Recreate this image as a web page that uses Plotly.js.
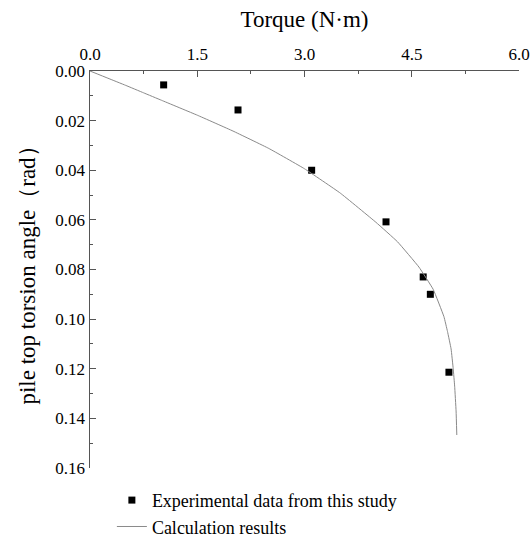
<!DOCTYPE html>
<html>
<head>
<meta charset="utf-8">
<script src="https://cdn.plot.ly/plotly-3.0.1.min.js"></script>
<style>html,body{margin:0;padding:0;background:#fff;}#chart{width:532px;height:538px;}</style>
</head>
<body>
<div id="chart"></div>
<script>
// Experimental data
const expTorque = [1.03, 2.07, 3.10, 4.14, 4.66, 4.76, 5.02];
const expAngle  = [0.0056, 0.0157, 0.0400, 0.0608, 0.0830, 0.0900, 0.1214];
// Calculation results
const calcTorque = [0, 0.25, 0.5, 0.75, 1.0, 1.5, 2.0, 2.5, 3.0, 3.5, 4.0, 4.3, 4.6, 4.8, 4.95, 5.0, 5.05, 5.08, 5.10, 5.12, 5.13];
const calcAngle  = [0, 0.0029, 0.0058, 0.0088, 0.0118, 0.0178, 0.0242, 0.0312, 0.0394, 0.0492, 0.0610, 0.0688, 0.0790, 0.0880, 0.0990, 0.1050, 0.1120, 0.1200, 0.1270, 0.1370, 0.1467];

const fontFam = '"Liberation Serif", "Times New Roman", serif';
const axisCol = '#555555';

const traces = [
  {
    x: expTorque, y: expAngle, mode: 'markers', type: 'scatter',
    name: 'Experimental data from this study',
    marker: {symbol: 'square', size: 7, color: '#000000'}
  },
  {
    x: calcTorque, y: calcAngle, mode: 'lines', type: 'scatter',
    name: 'Calculation results',
    line: {color: '#8a8a8a', width: 1, shape: 'spline', smoothing: 0.3}
  }
];

const layout = {
  width: 532, height: 538,
  margin: {l: 90, r: 13, t: 71, b: 70, autoexpand: false},
  paper_bgcolor: '#ffffff', plot_bgcolor: '#ffffff',
  font: {family: fontFam, size: 17, color: '#000000'},
  showlegend: true,
  legend: {x: 0.051, y: -0.035, xanchor: 'left', yanchor: 'top',
           font: {family: fontFam, size: 18, color: '#000'},
           bgcolor: 'rgba(0,0,0,0)', tracegroupgap: 0, itemwidth: 30},
  xaxis: {
    side: 'top', range: [0, 6], dtick: 1.5, tick0: 0, tickformat: '.1f',
    showgrid: false, zeroline: false, showline: true, linecolor: axisCol, linewidth: 1.5,
    ticks: 'inside', ticklen: 6, tickcolor: axisCol, tickwidth: 1,
    ticklabelstandoff: 3,
    minor: {dtick: 0.75, ticks: 'inside', ticklen: 3, tickcolor: axisCol, showgrid: false},
    tickfont: {family: fontFam, size: 17, color: '#000'},
    title: {text: 'Torque (N·m)', font: {family: fontFam, size: 23, color: '#000'}, standoff: 10}
  },
  yaxis: {
    range: [0.16, 0], autorange: false, dtick: 0.02, tick0: 0, tickformat: '.2f',
    showgrid: false, zeroline: false, showline: true, linecolor: axisCol, linewidth: 1.5,
    ticks: 'inside', ticklen: 6, tickcolor: axisCol, tickwidth: 1,
    minor: {dtick: 0.01, ticks: 'inside', ticklen: 3, tickcolor: axisCol, showgrid: false},
    tickfont: {family: fontFam, size: 17, color: '#000'},
    title: {text: '\u00a0\u00a0\u00a0\u00a0pile top torsion angle（rad）', font: {family: fontFam, size: 23, color: '#000'}, standoff: 13}
  }
};

Plotly.newPlot('chart', traces, layout, {displayModeBar: false, staticPlot: true});
</script>
</body>
</html>
